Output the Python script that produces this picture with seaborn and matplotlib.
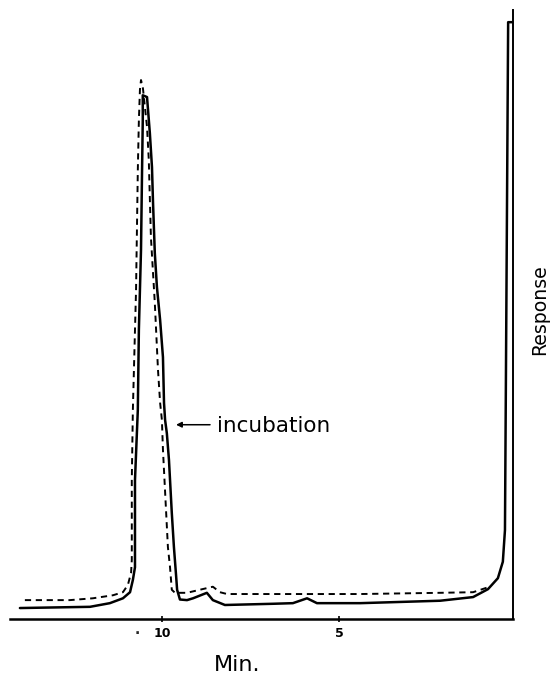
import matplotlib
matplotlib.use("Agg")
import matplotlib.pyplot as plt
import seaborn as sns
import pandas as pd

# --- data (minutes, response in % of full scale) ---
solid_min = [14.02, 12.04, 11.48, 11.11, 10.91, 10.83, 10.77, 10.77, 10.69, 10.66, 10.60,
             10.57, 10.55, 10.55, 10.43, 10.35, 10.29, 10.26, 10.21, 10.15, 10.06, 9.98,
             9.95, 9.92, 9.87, 9.81, 9.73, 9.67, 9.61, 9.58, 9.50, 9.30, 9.13, 8.74, 8.57,
             8.23, 6.87, 6.31, 5.91, 5.63, 4.41, 2.15, 1.22, 0.80, 0.52, 0.38, 0.32, 0.23, 0.12]
solid_resp = [1.8, 2.0, 2.6, 3.4, 4.4, 6.4, 8.5, 22.8, 34.3, 47.5, 60.6,
              73.7, 81.9, 86.0, 85.7, 79.8, 74.2, 68.3, 60.1, 54.5, 49.1, 43.0,
              35.5, 32.7, 30.5, 26.1, 17.4, 11.8, 7.2, 4.8, 3.2, 3.1, 3.4, 4.3, 3.1,
              2.3, 2.5, 2.6, 3.4, 2.6, 2.6, 3.0, 3.6, 4.9, 6.7, 9.4, 14.6, 98.0, 98.0]

dashed_min = [13.88, 12.61, 11.96, 11.39, 11.11, 10.97, 10.88, 10.86, 10.86, 10.83, 10.74,
              10.69, 10.66, 10.63, 10.60, 10.55, 10.43, 10.38, 10.32, 10.21, 10.12, 10.06,
              10.01, 9.98, 9.84, 9.78, 9.73, 9.64, 9.30, 8.94, 8.57, 8.37, 8.17, 4.41,
              2.15, 1.22, 0.75]
dashed_resp = [3.1, 3.1, 3.4, 3.9, 4.4, 5.6, 7.6, 9.7, 22.8, 34.3, 54.0,
               73.7, 81.9, 86.9, 88.5, 87.4, 80.8, 75.4, 62.7, 51.9, 40.9, 35.5,
               32.7, 27.8, 11.8, 8.5, 4.8, 4.3, 4.3, 4.8, 5.3, 4.4, 4.1, 4.1,
               4.3, 4.4, 5.3]

tick_values = [10, 5]
tick_labels = ["10", "5"]

solid_df = pd.DataFrame({"min": solid_min, "resp": solid_resp})
dashed_df = pd.DataFrame({"min": dashed_min, "resp": dashed_resp})

sns.set_theme(style="white")
plt.rcParams["font.family"] = ["DejaVu Sans"]

fig = plt.figure(figsize=(5.51, 6.76), dpi=100)
ax = fig.add_axes([10 / 551, 57 / 676, 503 / 551, 609 / 676])

sns.lineplot(data=dashed_df, x="min", y="resp", sort=False, estimator=None, ax=ax,
             color="black", lw=1.4, linestyle=(0, (3.2, 2.4)))
sns.lineplot(data=solid_df, x="min", y="resp", sort=False, estimator=None, ax=ax,
             color="black", lw=1.8)

ax.set_xlim(14.30, 0.093)
ax.set_ylim(0, 100)

for side in ["left", "top"]:
    ax.spines[side].set_visible(False)
ax.spines["bottom"].set_linewidth(1.8)
ax.spines["right"].set_linewidth(1.4)
ax.spines["bottom"].set_color("black")
ax.spines["right"].set_color("black")

ax.set_xticks(tick_values)
ax.set_xticklabels(tick_labels, fontsize=9, fontweight="bold")
ax.tick_params(axis="x", direction="inout", length=5, width=1.2, pad=3.5, colors="black",
               bottom=True)
ax.set_yticks([])
ax.set_xlabel("")
ax.set_ylabel("")

ax.text(10.71, -2.4, "·", ha="center", va="center", fontsize=10, fontweight="bold",
        clip_on=False)

ax.annotate("", xy=(9.61, 31.9), xytext=(8.65, 31.9),
            arrowprops=dict(arrowstyle="-|>", color="black", lw=1.1,
                            mutation_scale=8, shrinkA=0, shrinkB=0))
ax.text(8.45, 31.7, "incubation", ha="left", va="center", fontsize=15.5, color="black")

fig.text(237 / 551, 1 - 665 / 676, "Min.", ha="center", va="center", fontsize=16,
         color="black")
fig.text(540 / 551, 1 - 310 / 676, "Response", ha="center", va="center", fontsize=13.6,
         rotation=90, color="black")

fig.savefig("out.png", dpi=100)
